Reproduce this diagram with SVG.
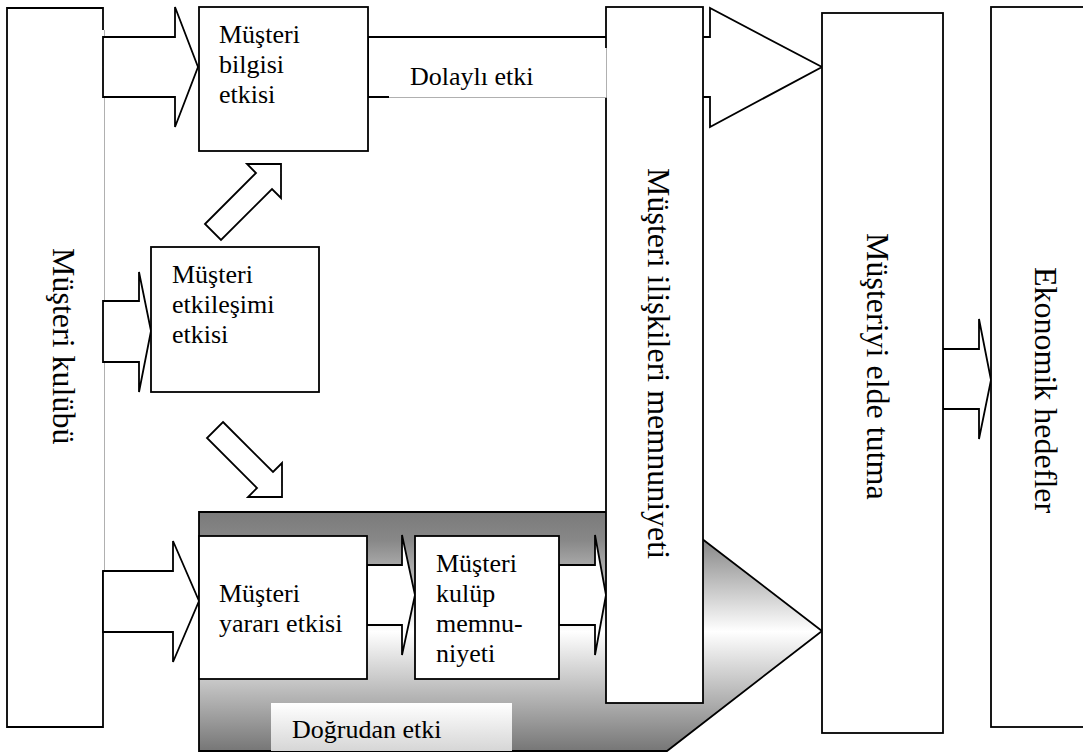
<svg xmlns="http://www.w3.org/2000/svg" width="1083" height="754" viewBox="0 0 1083 754">
  <style>
    .box { fill: #ffffff; stroke: #000000; stroke-width: 1.8; }
    .edge { fill: none; stroke: #000000; stroke-width: 1.8; }
    .hair { fill: none; stroke: #b0b0b0; stroke-width: 1; }
    .arrow { fill: #ffffff; stroke: #000000; stroke-width: 1.8; stroke-linejoin: miter; }
    text { font-family: 'Liberation Serif', 'DejaVu Serif', 'Times New Roman', serif; fill: #000000; }
    .label { font-size: 26px; }
    .vlabel { font-size: 32px; }
  </style>
  <defs>
    <linearGradient id="directFill" x1="0" y1="0" x2="0" y2="1">
      <stop offset="0" stop-color="#7a7a7a"/>
      <stop offset="0.12" stop-color="#888888"/>
      <stop offset="0.5" stop-color="#ffffff"/>
      <stop offset="0.85" stop-color="#a0a0a0"/>
      <stop offset="1" stop-color="#767676"/>
    </linearGradient>
    <linearGradient id="directTag" x1="0" y1="0" x2="0" y2="1">
      <stop offset="0" stop-color="#ffffff"/>
      <stop offset="1" stop-color="#d6d6d6"/>
    </linearGradient>
  </defs>

  <!-- shaded direct-effect band (background container) -->
  <g id="direct-effect">
    <polygon points="199,512 667,512 822,631 667,751 199,751" fill="url(#directFill)" stroke="#000000" stroke-width="1.8"/>
    <rect x="271" y="703" width="241" height="48" fill="url(#directTag)"/>
    <text class="label" x="292" y="738">Doğrudan etki</text>
  </g>

  <!-- left column: customer club -->
  <g id="customer-club">
    <rect x="7" y="8" width="96" height="719" fill="#ffffff"/>
    <path class="edge" d="M103,30 V8 H7 V727 H103 V571"/>
    <line class="hair" x1="104.5" y1="30" x2="104.5" y2="571"/>
    <text class="vlabel" transform="translate(53,248) rotate(90)">Müşteri kulübü</text>
  </g>

  <!-- connectors -->
  <g id="connectors">
    <!-- club -> information effect -->
    <polygon class="arrow" points="103,37 175,37 175,7 198,67 175,127 175,97 103,97"/>
    <!-- club -> interaction effect -->
    <polygon class="arrow" points="103,301 139,301 139,272 151,331 139,392 139,362 103,362"/>
    <!-- club -> benefit effect -->
    <polygon class="arrow" points="103,571 173,571 173,541 199,601 173,662 173,632 103,632"/>
    <!-- information effect -> retention (indirect effect) -->
    <polygon class="arrow" points="368,37 710,37 710,8 822,67 710,127 710,97 368,97"/>
    <!-- interaction -> information (diagonal up) -->
    <polygon class="arrow" points="205,224 256,173 247,164 281,164 281,198 272,189 221,240"/>
    <!-- interaction -> benefit (diagonal down) -->
    <polygon class="arrow" points="223,422 273,472 282,463 282,497 248,497 257,488 207,438"/>
    <!-- benefit -> club satisfaction -->
    <polygon class="arrow" points="367,565 402,565 402,535 415,595 402,655 402,625 367,625"/>
    <!-- club satisfaction -> relationship satisfaction -->
    <polygon class="arrow" points="559,565 595,565 595,535 606,595 595,655 595,625 559,625"/>
    <!-- retention -> economic goals -->
    <polygon class="arrow" points="943,349 979,349 979,319 991,380 979,439 979,409 943,409"/>
  </g>

  <g id="information-effect">
    <rect class="box" x="199" y="7" width="169" height="144"/>
    <text class="label" x="219" y="43">Müşteri</text>
    <text class="label" x="219" y="73">bilgisi</text>
    <text class="label" x="219" y="103">etkisi</text>
  </g>

  <g id="interaction-effect">
    <rect class="box" x="151" y="247" width="168" height="145"/>
    <text class="label" x="172" y="283">Müşteri</text>
    <text class="label" x="172" y="313">etkileşimi</text>
    <text class="label" x="172" y="343">etkisi</text>
  </g>

  <g id="benefit-effect">
    <rect class="box" x="199" y="536" width="168" height="143"/>
    <text class="label" x="219" y="602">Müşteri</text>
    <text class="label" x="219" y="632">yararı etkisi</text>
  </g>

  <g id="club-satisfaction">
    <rect class="box" x="415" y="536" width="144" height="143"/>
    <text class="label" x="436" y="572">Müşteri</text>
    <text class="label" x="436" y="602">kulüp</text>
    <text class="label" x="436" y="632">memnu-</text>
    <text class="label" x="436" y="662">niyeti</text>
  </g>

  <g id="relationship-satisfaction">
    <rect class="box" x="606" y="7" width="97" height="696"/>
    <text class="vlabel" transform="translate(648,168) rotate(90)">Müşteri ilişkileri memnuniyeti</text>
  </g>

  <g id="retention">
    <rect class="box" x="822" y="13" width="121" height="720"/>
    <text class="vlabel" transform="translate(867,233) rotate(90)">Müşteriyi elde tutma</text>
  </g>

  <g id="economic-goals">
    <rect class="box" x="991" y="7" width="110" height="720"/>
    <text class="vlabel" transform="translate(1035,267) rotate(90)">Ekonomik hedefler</text>
  </g>

  <!-- indirect-effect tag laid over the relationship column edge -->
  <g id="indirect-effect">
    <rect x="389" y="48" width="218" height="49" fill="#ffffff"/>
    <path class="hair" d="M389,97.5 H606.5 V48"/>
    <text class="label" x="410" y="85">Dolaylı etki</text>
  </g>
</svg>
